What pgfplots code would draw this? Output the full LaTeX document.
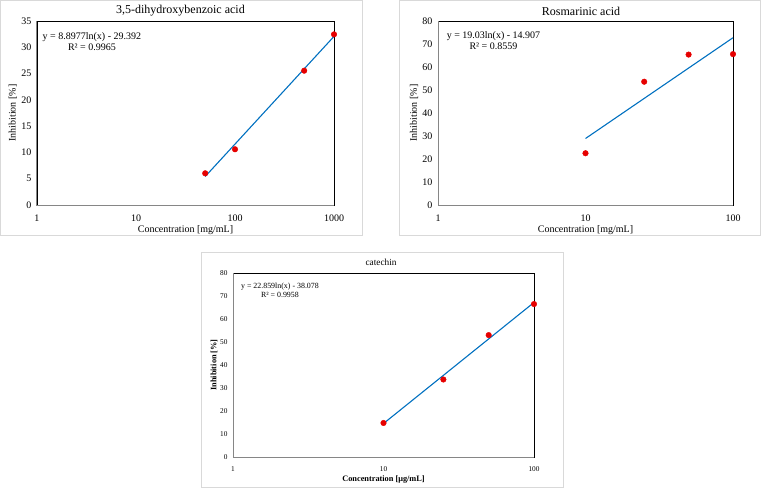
\documentclass[border=0pt]{standalone}
\usepackage{fontspec}
\setmainfont{Liberation Serif}
\usepackage{pgfplots}
\pgfplotsset{compat=1.18}
\definecolor{trend}{RGB}{0,112,192}
\definecolor{ptred}{RGB}{230,0,0}
\definecolor{framegray}{RGB}{217,217,217}
\definecolor{axgray}{RGB}{134,134,134}
\begin{document}
\begin{tikzpicture}
\path[use as bounding box] (0,0) rectangle (762pt,488pt);
\draw[framegray, line width=0.8pt] (0.5pt,487.5pt) rectangle (362pt,253pt);
\draw[framegray, line width=0.8pt] (399pt,487.5pt) rectangle (760pt,253pt);
\draw[framegray, line width=0.8pt] (201pt,236pt) rectangle (563pt,1pt);

% Chart 1
\begin{axis}[
  xmode=log, scale only axis, clip=false,
  at={(37pt,283pt)}, anchor=south west, width=297pt, height=184pt,
  xmin=1, xmax=1000, ymin=0, ymax=35,
  axis line style={black, line width=0.9pt},
  major tick length=0pt, minor tick length=0pt, tick style={draw=none},
  xtick={1,10,100,1000}, xticklabels={1,10,100,1000},
  ytick={0,5,10,15,20,25,30,35},
  /pgf/number format/assume math mode=true,
  tick label style={font=\fontsize{10}{12}\selectfont},
  xticklabel style={yshift=-6pt}, yticklabel style={xshift=-2pt},
  label style={font=\fontsize{10}{12}\selectfont},
  xlabel={Concentration [mg/mL]},
  xlabel style={at={(axis description cs:0.5,-0.136)}, anchor=center},
  ylabel={Inhibition [\%]},
  ylabel style={at={(axis description cs:-0.081,0.5)}, anchor=center},
]
\addplot[only marks, mark=*, mark size=2.8pt, color=ptred] coordinates {(50,6.03) (100,10.6) (500,25.55) (1000,32.46)};
\addplot[trend, line width=1.1pt] coordinates {(50,5.42) (1000,32.07)};
\node[align=center, font=\fontsize{10}{11}\selectfont] at (axis description cs:0.185,0.889) {y = 8.8977ln(x) - 29.392\\R² = 0.9965};
\node[font=\fontsize{12}{14}\selectfont] at (axis description cs:0.483,1.054) {3,5-dihydroxybenzoic acid};
\draw[axgray,line width=1pt] (axis description cs:0,1) -- (axis description cs:0,0) -- (axis description cs:1,0);
\end{axis}

% Chart 2
\begin{axis}[
  xmode=log, scale only axis, clip=false,
  at={(438pt,283pt)}, anchor=south west, width=295pt, height=184pt,
  xmin=1, xmax=100, ymin=0, ymax=80,
  axis line style={black, line width=0.9pt},
  major tick length=0pt, minor tick length=0pt, tick style={draw=none},
  xtick={1,10,100}, xticklabels={1,10,100},
  ytick={0,10,20,30,40,50,60,70,80},
  /pgf/number format/assume math mode=true,
  tick label style={font=\fontsize{10}{12}\selectfont},
  xticklabel style={yshift=-6pt}, yticklabel style={xshift=-2pt},
  label style={font=\fontsize{10}{12}\selectfont},
  xlabel={Concentration [mg/mL]},
  xlabel style={at={(axis description cs:0.5,-0.136)}, anchor=center},
  ylabel={Inhibition [\%]},
  ylabel style={at={(axis description cs:-0.081,0.5)}, anchor=center},
]
\addplot[only marks, mark=*, mark size=2.8pt, color=ptred] coordinates {(10,22.5) (25,53.6) (50,65.4) (100,65.6)};
\addplot[trend, line width=1.1pt] coordinates {(10,28.91) (100,72.73)};
\node[align=center, font=\fontsize{10}{11}\selectfont] at (axis description cs:0.188,0.891) {y = 19.03ln(x) - 14.907\\R² = 0.8559};
\node[font=\fontsize{12}{14}\selectfont] at (axis description cs:0.485,1.054) {Rosmarinic acid};
\draw[axgray,line width=1pt] (axis description cs:0,1) -- (axis description cs:0,0) -- (axis description cs:1,0);
\end{axis}

% Chart 3
\begin{axis}[
  xmode=log, scale only axis, clip=false,
  at={(233pt,31pt)}, anchor=south west, width=301pt, height=184pt,
  xmin=1, xmax=100, ymin=0, ymax=80,
  axis line style={black, line width=0.9pt},
  major tick length=0pt, minor tick length=0pt, tick style={draw=none},
  xtick={1,10,100}, xticklabels={1,10,100},
  ytick={0,10,20,30,40,50,60,70,80},
  /pgf/number format/assume math mode=true,
  tick label style={font=\fontsize{7.3}{9}\selectfont},
  xticklabel style={yshift=-6pt}, yticklabel style={xshift=-2pt},
  label style={font=\bfseries\fontsize{8.3}{10}\selectfont},
  xlabel={Concentration [μg/mL]},
  xlabel style={at={(axis description cs:0.5,-0.12)}, anchor=center},
  ylabel={Inhibition [\%]},
  ylabel style={at={(axis description cs:-0.063,0.5)}, anchor=center},
]
\addplot[only marks, mark=*, mark size=2.8pt, color=ptred] coordinates {(10,14.8) (25,33.7) (50,53.0) (100,66.5)};
\addplot[trend, line width=1.1pt] coordinates {(10,14.56) (100,67.19)};
\node[align=center, font=\fontsize{7.9}{9}\selectfont] at (axis description cs:0.156,0.905) {y = 22.859ln(x) - 38.078\\R² = 0.9958};
\node[font=\fontsize{9.3}{11}\selectfont] at (axis description cs:0.492,1.06) {catechin};
\draw[axgray,line width=1pt] (axis description cs:0,1) -- (axis description cs:0,0) -- (axis description cs:1,0);
\end{axis}
\end{tikzpicture}
\end{document}
